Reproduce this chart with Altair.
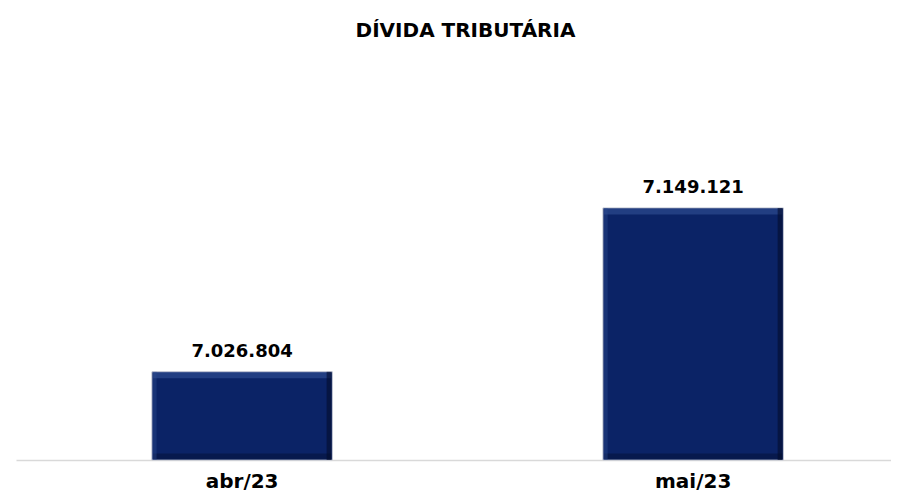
import altair as alt
import pandas as pd

# ---- data ----
categories = ["abr/23", "mai/23"]
values = [7026804, 7149121]
labels = ["7.026.804", "7.149.121"]
title_text = "DÍVIDA TRIBUTÁRIA"
y_domain = [6961000, 7259500]

df = pd.DataFrame({"mes": categories, "valor": values, "rotulo": labels,
                   "base": [y_domain[0]] * len(categories)})

FONT = "DejaVu Sans"
NAVY = "#0b2366"

xscale = alt.Scale(paddingInner=0.6, paddingOuter=0.27, align=0.558)
yscale = alt.Scale(domain=y_domain, zero=False, nice=False)

x_enc = alt.X("mes:N", sort=categories, scale=xscale,
              axis=alt.Axis(title=None, labelAngle=0, ticks=False, tickSize=0,
                            labelFont=FONT, labelFontSize=20, labelFontWeight="bold",
                            labelColor="#000000", labelPadding=27,
                            labelBaseline="alphabetic",
                            domainColor="#d9d9d9", domainWidth=1.5))
y_enc = alt.Y("valor:Q", scale=yscale, axis=None)
y2_enc = alt.Y2("base:Q")
y_base = alt.Y("base:Q", scale=yscale, axis=None)

base = alt.Chart(df)

bars = base.mark_bar(color=NAVY, stroke="#c3c7d3", strokeWidth=1).encode(
    x=x_enc, y=y_enc, y2=y2_enc)

top_bevel = base.mark_tick(color="#3a5a9e", opacity=0.5, thickness=6, size=178,
                           yOffset=3.5).encode(x=x_enc, y=y_enc)

bottom_bevel = base.mark_tick(color="#040f33", opacity=0.5, thickness=6, size=178,
                              yOffset=-3.5).encode(x=x_enc, y=y_base)

left_bevel = base.mark_bar(color="#2c4a8e", opacity=0.4, width=4, xOffset=-87.5).encode(
    x=x_enc, y=y_enc, y2=y2_enc)
right_bevel = base.mark_bar(color="#030c2b", opacity=0.6, width=5, xOffset=87).encode(
    x=x_enc, y=y_enc, y2=y2_enc)

text = base.mark_text(font=FONT, fontSize=18, fontWeight="bold", color="#000000",
                      baseline="alphabetic", dy=-15).encode(
    x=x_enc, y=y_enc, text="rotulo:N")

chart = alt.layer(bars, top_bevel, bottom_bevel, left_bevel, right_bevel, text).properties(
    width=875, height=400,
    background="#ffffff",
    title=alt.TitleParams(title_text, font=FONT, fontSize=20, fontWeight="bold",
                          color="#000000", anchor="middle", baseline="alphabetic",
                          offset=3, dx=12),
    padding={"left": 8, "top": 52, "right": 0, "bottom": 33},
    autosize=alt.AutoSizeParams(type="none"),
).configure_view(strokeWidth=0, stroke="transparent")

chart.save("out.html", embed_options={"renderer": "svg", "actions": False})
